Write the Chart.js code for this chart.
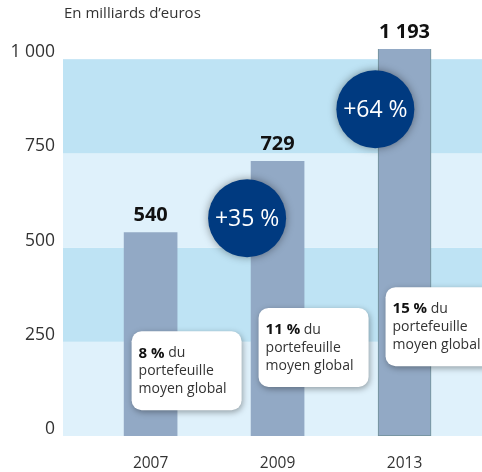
<!DOCTYPE html>
<html lang="fr">
<head>
  <meta charset="UTF-8">
  <script src="https://cdn.jsdelivr.net/npm/chart.js@4.4.1/dist/chart.umd.min.js"></script>
  <title>En milliards d'euros</title>
  <style>
    html, body { margin: 0; padding: 0; background: #fff; }
    #wrap { width: 482px; height: 472px; position: relative; }
  </style>
</head>
<body>
<div id="wrap"><canvas id="chart"></canvas></div>

<script>
 // data
 const years = ['2007', '2009', '2013'];
 const values = [540, 729, 1193];
 const growth = ['+35 %', '+64 %'];
 const shares = ['8 %', '11 %', '15 %'];
 const yTicks = [0, 250, 500, 750, 1000];

 const FONT = '"Open Sans", "Noto Sans", sans-serif';

 function fmt(n) {
   return String(n).replace(/\B(?=(\d{3})+(?!\d))/g, ' ');
 }

 const decor = {
   id: 'decor',
   beforeDatasetsDraw(chart) {
     const {ctx, chartArea: a, scales: {y}} = chart;
     ctx.save();
     for (let i = 0; i < yTicks.length - 1; i++) {
       const y0 = y.getPixelForValue(yTicks[i]);
       const y1 = y.getPixelForValue(yTicks[i + 1]);
       ctx.fillStyle = i % 2 ? '#bee3f4' : '#dff1fb';
       ctx.fillRect(a.left, y1, a.right - a.left, y0 - y1);
     }
     ctx.restore();
   },
   afterDatasetsDraw(chart) {
     const {ctx, chartArea: a, scales: {x, y}} = chart;
     ctx.save();
     // unit caption
     ctx.fillStyle = '#333';
     ctx.font = '15px ' + FONT;
     ctx.textBaseline = 'middle';
     ctx.textAlign = 'left';
     ctx.fillText('En milliards d\u2019euros', 64, 14);

     // value labels on top of bars
     ctx.font = 'bold 20px ' + FONT;
     ctx.fillStyle = '#111';
     ctx.textAlign = 'center';
     values.forEach((v, i) => {
       const top = Math.max(y.getPixelForValue(v), a.top);
       ctx.fillText(fmt(v), x.getPixelForValue(i), top - 17);
     });

     // callout boxes
     const boxTop = [278, 340, 395];
     shares.forEach((s, i) => {
       const bx = x.getPixelForValue(i) - 19;
       const by = y.getPixelForValue(boxTop[i]);
       ctx.save();
       ctx.shadowColor = 'rgba(0,0,0,0.35)';
       ctx.shadowBlur = 6;
       ctx.shadowOffsetX = 1;
       ctx.shadowOffsetY = 2;
       ctx.fillStyle = '#fff';
       ctx.beginPath();
       ctx.roundRect(bx, by, 110, 79, 10);
       ctx.fill();
       ctx.restore();
       ctx.textAlign = 'left';
       ctx.fillStyle = '#111';
       ctx.font = 'bold 15px ' + FONT;
       ctx.fillText(s, bx + 7, by + 22);
       const w = ctx.measureText(s).width;
       ctx.fillStyle = '#333';
       ctx.font = '14px ' + FONT;
       ctx.fillText(' du', bx + 7 + w, by + 22);
       ctx.fillText('portefeuille', bx + 7, by + 40);
       ctx.fillText('moyen global', bx + 7, by + 58);
     });

     // growth bubbles
     const bubblePos = [[0.76, 578], [1.77, 867]];
     growth.forEach((g, i) => {
       const cx = x.getPixelForValue(bubblePos[i][0]);
       const cy = y.getPixelForValue(bubblePos[i][1]);
       ctx.save();
       ctx.shadowColor = 'rgba(0,0,0,0.4)';
       ctx.shadowBlur = 8;
       ctx.fillStyle = '#003a80';
       ctx.beginPath();
       ctx.arc(cx, cy, 39, 0, Math.PI * 2);
       ctx.fill();
       ctx.restore();
       ctx.fillStyle = '#fff';
       ctx.font = '500 23px ' + FONT;
       ctx.textAlign = 'center';
       ctx.fillText(g, cx, cy + 1);
     });
     ctx.restore();
   }
 };

 const chart = new Chart(document.getElementById('chart'), {
   type: 'bar',
   data: {
     datasets: [{
       data: values.map((v, i) => ({x: i, y: v})),
       backgroundColor: '#92a9c5',
       borderColor: ['#92a9c5', '#92a9c5', '#6f9098'],
       borderWidth: [0, 0, 1],
       borderSkipped: false,
       barThickness: 53,
       clip: 0
     }]
   },
   options: {
     responsive: true,
     maintainAspectRatio: false,
     animation: false,
     layout: { padding: { top: 49, right: 0, left: 0, bottom: 0 } },
     plugins: { legend: { display: false }, tooltip: { enabled: false } },
     scales: {
       x: {
         type: 'linear',
         offset: false,
         min: -0.69,
         max: 2.61,
         grid: { display: false, drawTicks: false, offset: false },
         border: { display: false },
         afterBuildTicks: (ax) => { ax.ticks = years.map((_, i) => ({value: i})); },
         afterFit: (ax) => { ax.height = 36; },
         ticks: {
           padding: 18,
           color: '#333',
           font: { family: FONT, size: 15.5 },
           callback: (v) => years[v]
         }
       },
       y: {
         min: 0,
         max: 1027,
         grid: { display: false, drawTicks: false },
         border: { display: false },
         afterBuildTicks: (ax) => { ax.ticks = yTicks.map(v => ({value: v})); },
         afterFit: (ax) => { ax.width = 63; },
         ticks: {
           padding: 8,
           labelOffset: -7,
           color: '#333',
           font: { family: FONT, size: 17.5 },
           callback: (v) => fmt(v)
         }
       }
     }
   },
   plugins: [decor]
 });
</script>
</body>
</html>
